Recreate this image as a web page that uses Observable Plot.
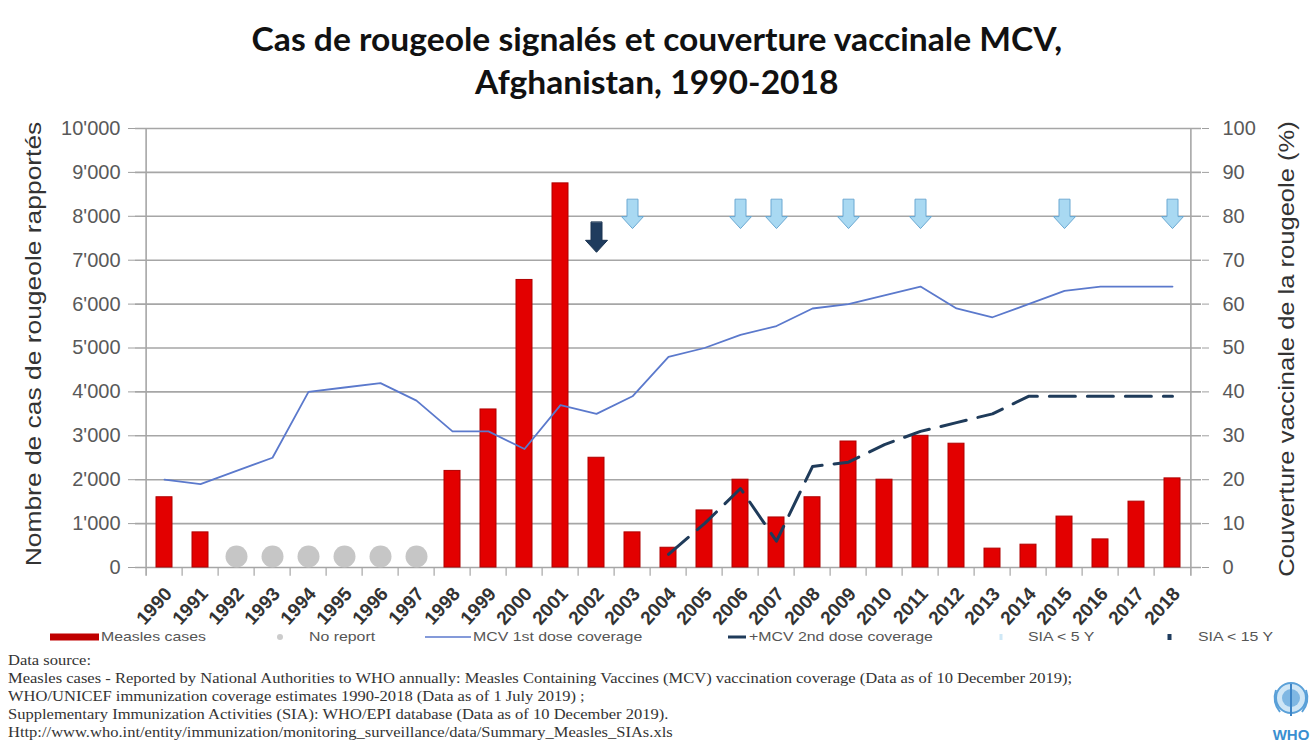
<!DOCTYPE html>
<html>
<head>
<meta charset="utf-8">
<script src="https://cdn.jsdelivr.net/npm/d3@7"></script>
<script src="https://cdn.jsdelivr.net/npm/@observablehq/plot@0.6"></script>
<style>
  html, body { margin: 0; padding: 0; background: #fff; }
  body { width: 1313px; height: 750px; position: relative; overflow: hidden; font-family: "Liberation Sans", Arial, sans-serif; }
  #title { position: absolute; left: 0; top: 17px; width: 1313px; text-align: center; font-family: Lato, "Open Sans", sans-serif; font-weight: 700; font-size: 32px; line-height: 43px; color: #111; transform: scaleX(1.05); transform-origin: 650px 0; }
  #chart { position: absolute; left: 0; top: 100px; }
  .ytitle { position: absolute; font-size: 22px; color: #333; white-space: nowrap; transform-origin: center center; }
  #legend { position: absolute; left: 0; top: 628px; width: 1313px; height: 18px; font-size: 13px; color: #555; }
  #legend span { position: absolute; top: 0; line-height: 18px; white-space: nowrap; transform: scaleX(1.22); transform-origin: 0 0; }
  #legend svg { position: absolute; top: 0; }
  #source { position: absolute; left: 8px; top: 652px; font-family: "Liberation Serif", "Times New Roman", serif; font-size: 14px; line-height: 18px; color: #333; white-space: nowrap; transform: scaleX(1.18); transform-origin: 0 0; }
  #who { position: absolute; left: 1270px; top: 676px; }
  [aria-label="y-axis tick"] { stroke: #a0a0a0; }
  [aria-label="x-axis tick label"] text { font-weight: bold; }
</style>
</head>
<body>
<div id="title">Cas de rougeole signalés et couverture vaccinale MCV,<br>Afghanistan, 1990-2018</div>
<div id="chart"></div>
<div class="ytitle" id="ylabL">Nombre de cas de rougeole rapportés</div>
<div class="ytitle" id="ylabR">Couverture vaccinale de la rougeole (%)</div>
<div id="legend"></div>
<div id="source">
Data source:<br>
Measles cases - Reported by National Authorities to WHO annually: Measles Containing Vaccines (MCV) vaccination coverage (Data as of 10 December 2019);<br>
WHO/UNICEF immunization coverage estimates 1990-2018 (Data as of 1 July 2019) ;<br>
Supplementary Immunization Activities (SIA): WHO/EPI database (Data as of 10 December 2019).<br>
Http://www.who.int/entity/immunization/monitoring_surveillance/data/Summary_Measles_SIAs.xls
</div>
<svg id="who" width="42" height="72" viewBox="0 0 42 72">
  <circle cx="21" cy="22" r="15" fill="#cfe6f6" stroke="#5aa0d8" stroke-width="2"/>
  <circle cx="21" cy="22" r="9" fill="#7fb7e3"/>
  <path d="M21 8 L21 40" stroke="#3d84c6" stroke-width="2"/>
  <path d="M6 14 Q2 26 10 36 M36 14 Q40 26 32 36" fill="none" stroke="#5aa0d8" stroke-width="2"/>
  <text x="21" y="64" text-anchor="middle" font-family="Liberation Sans, Arial" font-weight="bold" font-size="15" fill="#3a8fd0">WHO</text>
</svg>
<script>
// ---------- data ----------
const years = [1990,1991,1992,1993,1994,1995,1996,1997,1998,1999,2000,2001,2002,2003,2004,2005,2006,2007,2008,2009,2010,2011,2012,2013,2014,2015,2016,2017,2018];
const measlesCases = [1600,800,null,null,null,null,null,null,2200,3600,6550,8750,2500,800,450,1300,2000,1140,1600,2870,2000,3000,2820,430,520,1160,640,1500,2030];
const noReportYears = [1992,1993,1994,1995,1996,1997];
const mcv1Coverage = [20,19,22,25,40,41,42,38,31,31,27,37,35,39,48,50,53,55,59,60,62,64,59,57,60,63,64,64,64];
const mcv2Coverage = [null,null,null,null,null,null,null,null,null,null,null,null,null,null,3,10,18,6,23,24,28,31,33,35,39,39,39,39,39];
const siaUnder5Years = [2003,2006,2007,2009,2011,2015,2018];
const siaUnder15Years = [2002];
const leftTicks = [0,1000,2000,3000,4000,5000,6000,7000,8000,9000,10000];

// ---------- layout ----------
const W = 1313, H = 560, ML = 135, MR = 112, MT = 28, MB = 93;
const step = (W - ML - MR) / years.length;

const rows = years.map((year, i) => ({year, cases: measlesCases[i], mcv1: mcv1Coverage[i], mcv2: mcv2Coverage[i]}));
const fmt = d3.formatLocale({decimal: ".", thousands: "'", grouping: [3], currency: ["", ""]}).format(",");
const pctToCases = p => p * 100;

const blockArrow = {
  draw(context, l) {
    const sw = 5.5, hw = 11, hl = 12;
    context.moveTo(-sw, 0);
    context.lineTo(-sw, -(l - hl));
    context.lineTo(-hw, -(l - hl));
    context.lineTo(0, -l);
    context.lineTo(hw, -(l - hl));
    context.lineTo(sw, -(l - hl));
    context.lineTo(sw, 0);
    context.closePath();
  }
};

const chart = Plot.plot({
  width: W, height: H,
  marginLeft: ML, marginRight: MR, marginTop: MT, marginBottom: MB,
  style: {fontFamily: "Liberation Sans, Arial, sans-serif", background: "transparent"},
  x: {type: "band", domain: years, paddingInner: 0.56, paddingOuter: 0.28},
  y: {domain: [0, 10000]},
  marks: [
    Plot.ruleY(leftTicks, {stroke: "#a6a6a6", strokeWidth: 1.6}),
    Plot.ruleX(years.slice(0, 1), {x: d => d, dx: -step / 2, y1: -200, y2: 10000, stroke: "#a6a6a6", strokeWidth: 1.6}),
    Plot.ruleX(years.slice(-1), {x: d => d, dx: step / 2, y1: -200, y2: 10000, stroke: "#a6a6a6", strokeWidth: 1.6}),
    Plot.ruleX(years.slice(1), {x: d => d, dx: -step / 2, y1: -200, y2: 0, stroke: "#a6a6a6", strokeWidth: 1.2}),
    Plot.barY(rows.filter(d => d.cases != null), {x: "year", y: "cases", fill: "#e30000", stroke: "#b00000", strokeWidth: 1}),
    Plot.dot(noReportYears, {x: d => d, y: 0, dy: -11, r: 11, fill: "#c6c6c6"}),
    Plot.line(rows, {x: "year", y: d => pctToCases(d.mcv1), stroke: "#5b79cc", strokeWidth: 1.8}),
    Plot.line(rows.filter(d => d.mcv2 != null), {x: "year", y: d => pctToCases(d.mcv2), stroke: "#1f3b5a", strokeWidth: 3, strokeDasharray: "26,12"}),
    Plot.vector(siaUnder5Years, {x: d => d, y: 7720, length: 29, rotate: 180, anchor: "end", shape: blockArrow, fill: "#a9d9f2", stroke: "#6aa8d2", strokeWidth: 1}),
    Plot.vector(siaUnder15Years, {x: d => d, y: 7180, length: 30, rotate: 180, anchor: "end", shape: blockArrow, fill: "#1f3c5e", stroke: "#1a3350", strokeWidth: 1}),
    Plot.axisY(leftTicks, {anchor: "left", tickFormat: fmt, tickSize: 7, tickPadding: 8, fontSize: 20, color: "#595959", label: null}),
    Plot.axisY(leftTicks, {anchor: "right", tickFormat: d => d / 100, tickSize: 7, tickPadding: 14, fontSize: 20, color: "#595959", label: null}),
    Plot.axisX({tickRotate: -48, tickSize: 0, tickPadding: 6, dy: 17, dx: 4, tickFormat: d => String(d), fontSize: 19, color: "#333", label: null})
  ]
});
document.getElementById("chart").appendChild(chart);

// axis titles
const yl = document.getElementById("ylabL");
yl.style.left = (34 - yl.offsetWidth / 2) + "px";
yl.style.top = (344 - yl.offsetHeight / 2) + "px";
yl.style.transform = "rotate(-90deg) scaleX(1.2)";
const yr = document.getElementById("ylabR");
yr.style.left = (1287 - yr.offsetWidth / 2) + "px";
yr.style.top = (349 - yr.offsetHeight / 2) + "px";
yr.style.transform = "rotate(-90deg) scaleX(1.16)";

// legend
const legendItems = [
  {label: "Measles cases", tx: 101, sw: `<svg width="50" height="18" style="left:50px"><rect x="0" y="5.5" width="49" height="7" fill="#c00000"/></svg>`},
  {label: "No report", tx: 309, sw: `<svg width="10" height="18" style="left:275px"><circle cx="5" cy="9" r="3" fill="#cccccc"/></svg>`},
  {label: "MCV 1st dose coverage", tx: 473, sw: `<svg width="48" height="18" style="left:425px"><line x1="0" x2="46" y1="9" y2="9" stroke="#5b79cc" stroke-width="1.6"/></svg>`},
  {label: "+MCV 2nd dose coverage", tx: 749, sw: `<svg width="20" height="18" style="left:728px"><line x1="0" x2="18" y1="9" y2="9" stroke="#1f3b5a" stroke-width="3"/></svg>`},
  {label: "SIA < 5 Y", tx: 1028, sw: `<svg width="6" height="18" style="left:998px"><rect x="1.5" y="6" width="3" height="6" fill="#cfe8f6"/></svg>`},
  {label: "SIA < 15 Y", tx: 1198, sw: `<svg width="8" height="18" style="left:1166px"><rect x="1.5" y="6" width="4" height="6" fill="#1f3c5e"/></svg>`}
];
document.getElementById("legend").innerHTML = legendItems.map(d => d.sw + `<span style="left:${d.tx}px">${d.label.replace("<", "&lt;")}</span>`).join("");
</script>
</body>
</html>
